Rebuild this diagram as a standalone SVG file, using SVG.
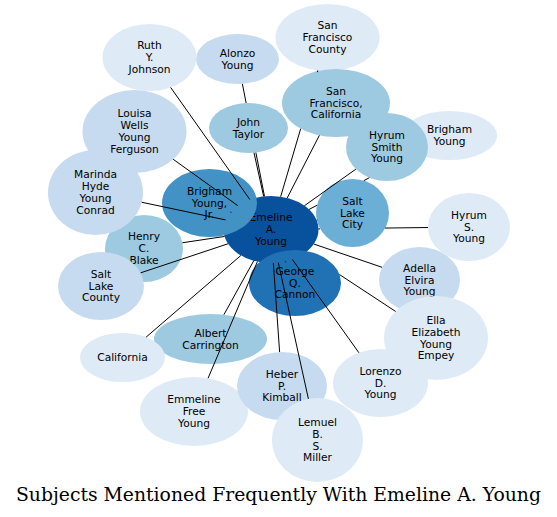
<svg xmlns="http://www.w3.org/2000/svg" width="557" height="517" viewBox="0 0 557 517">
<style>
.c0{fill:#08519c}.c1{fill:#2171b5}.c2{fill:#4292c6}.c3{fill:#6baed6}.c4{fill:#9ecae1}.c5{fill:#c6dbef}.c6{fill:#deebf7}
text.l{font-family:"DejaVu Sans","Liberation Sans",sans-serif;font-size:10.67px;text-anchor:middle;fill:#000}
#edges path{stroke:#000;stroke-width:1;fill:none}
.title{font-family:"DejaVu Serif","Liberation Serif",serif;font-size:18.5px;fill:#000}
</style>
<rect width="557" height="517" fill="#fff"/>
<g id="nodes">
<g id="n-emeline"><ellipse class="c0" cx="271" cy="229.5" rx="47.5" ry="33.5"/><text class="l"><tspan x="271" y="221.3">Emeline</tspan><tspan x="271" y="233.1">A.</tspan><tspan x="271" y="244.9">Young</tspan></text></g>
<g id="n-adella"><ellipse class="c5" cx="419.5" cy="280" rx="40.5" ry="33"/><text class="l"><tspan x="419.5" y="271.8">Adella</tspan><tspan x="419.5" y="283.6">Elvira</tspan><tspan x="419.5" y="295.4">Young</tspan></text></g>
<g id="n-albert"><ellipse class="c4" cx="210.5" cy="339" rx="56.5" ry="25"/><text class="l"><tspan x="210.5" y="336.7">Albert</tspan><tspan x="210.5" y="348.5">Carrington</tspan></text></g>
<g id="n-alonzo"><ellipse class="c5" cx="237.5" cy="59" rx="41.5" ry="25"/><text class="l"><tspan x="237.5" y="56.7">Alonzo</tspan><tspan x="237.5" y="68.5">Young</tspan></text></g>
<g id="n-brigham"><ellipse class="c6" cx="449.5" cy="135.5" rx="47.5" ry="24.5"/><text class="l"><tspan x="449.5" y="133.2">Brigham</tspan><tspan x="449.5" y="145">Young</tspan></text></g>
<g id="n-brighamjr"><ellipse class="c2" cx="209.5" cy="203" rx="47.5" ry="34"/><text class="l"><tspan x="209.5" y="194.8">Brigham</tspan><tspan x="209.5" y="206.6">Young,</tspan><tspan x="209.5" y="218.4">Jr.</tspan></text></g>
<g id="n-california"><ellipse class="c6" cx="122.5" cy="357.5" rx="42.5" ry="24.5"/><text class="l"><tspan x="122.5" y="361.1">California</tspan></text></g>
<g id="n-ella"><ellipse class="c6" cx="436" cy="338" rx="52" ry="42"/><text class="l"><tspan x="436" y="323.9">Ella</tspan><tspan x="436" y="335.7">Elizabeth</tspan><tspan x="436" y="347.5">Young</tspan><tspan x="436" y="359.3">Empey</tspan></text></g>
<g id="n-emmeline"><ellipse class="c6" cx="194" cy="411.5" rx="54" ry="34.5"/><text class="l"><tspan x="194" y="403.3">Emmeline</tspan><tspan x="194" y="415.1">Free</tspan><tspan x="194" y="426.9">Young</tspan></text></g>
<g id="n-george"><ellipse class="c1" cx="295" cy="283" rx="46" ry="33"/><text class="l"><tspan x="295" y="274.8">George</tspan><tspan x="295" y="286.6">Q.</tspan><tspan x="295" y="298.4">Cannon</tspan></text></g>
<g id="n-heber"><ellipse class="c5" cx="282" cy="386" rx="45" ry="34"/><text class="l"><tspan x="282" y="377.8">Heber</tspan><tspan x="282" y="389.6">P.</tspan><tspan x="282" y="401.4">Kimball</tspan></text></g>
<g id="n-henry"><ellipse class="c4" cx="144" cy="248.5" rx="39" ry="33.5"/><text class="l"><tspan x="144" y="240.3">Henry</tspan><tspan x="144" y="252.1">C.</tspan><tspan x="144" y="263.9">Blake</tspan></text></g>
<g id="n-hyrums"><ellipse class="c6" cx="469" cy="227" rx="41" ry="34"/><text class="l"><tspan x="469" y="218.8">Hyrum</tspan><tspan x="469" y="230.6">S.</tspan><tspan x="469" y="242.4">Young</tspan></text></g>
<g id="n-hyrumsmith"><ellipse class="c4" cx="387" cy="147" rx="41" ry="34"/><text class="l"><tspan x="387" y="138.8">Hyrum</tspan><tspan x="387" y="150.6">Smith</tspan><tspan x="387" y="162.4">Young</tspan></text></g>
<g id="n-johntaylor"><ellipse class="c4" cx="248.5" cy="128" rx="39.5" ry="25"/><text class="l"><tspan x="248.5" y="125.7">John</tspan><tspan x="248.5" y="137.5">Taylor</tspan></text></g>
<g id="n-lemuel"><ellipse class="c6" cx="317.5" cy="440" rx="45.5" ry="42"/><text class="l"><tspan x="317.5" y="425.9">Lemuel</tspan><tspan x="317.5" y="437.7">B.</tspan><tspan x="317.5" y="449.5">S.</tspan><tspan x="317.5" y="461.3">Miller</tspan></text></g>
<g id="n-lorenzo"><ellipse class="c6" cx="380.5" cy="383" rx="47.5" ry="34"/><text class="l"><tspan x="380.5" y="374.8">Lorenzo</tspan><tspan x="380.5" y="386.6">D.</tspan><tspan x="380.5" y="398.4">Young</tspan></text></g>
<g id="n-louisa"><ellipse class="c5" cx="134.5" cy="131.5" rx="52" ry="41.5"/><text class="l"><tspan x="134.5" y="117.4">Louisa</tspan><tspan x="134.5" y="129.2">Wells</tspan><tspan x="134.5" y="141">Young</tspan><tspan x="134.5" y="152.8">Ferguson</tspan></text></g>
<g id="n-marinda"><ellipse class="c5" cx="95.5" cy="192.5" rx="47.5" ry="42.5"/><text class="l"><tspan x="95.5" y="178.4">Marinda</tspan><tspan x="95.5" y="190.2">Hyde</tspan><tspan x="95.5" y="202">Young</tspan><tspan x="95.5" y="213.8">Conrad</tspan></text></g>
<g id="n-ruth"><ellipse class="c6" cx="149.5" cy="57.5" rx="47" ry="33.5"/><text class="l"><tspan x="149.5" y="49.3">Ruth</tspan><tspan x="149.5" y="61.1">Y.</tspan><tspan x="149.5" y="72.9">Johnson</tspan></text></g>
<g id="n-saltlakecity"><ellipse class="c3" cx="352.5" cy="213" rx="36.5" ry="34"/><text class="l"><tspan x="352.5" y="204.8">Salt</tspan><tspan x="352.5" y="216.6">Lake</tspan><tspan x="352.5" y="228.4">City</tspan></text></g>
<g id="n-saltlakecounty"><ellipse class="c5" cx="101" cy="286" rx="43" ry="34"/><text class="l"><tspan x="101" y="277.8">Salt</tspan><tspan x="101" y="289.6">Lake</tspan><tspan x="101" y="301.4">County</tspan></text></g>
<g id="n-sfcounty"><ellipse class="c6" cx="327.5" cy="37.5" rx="52" ry="33.5"/><text class="l"><tspan x="327.5" y="29.3">San</tspan><tspan x="327.5" y="41.1">Francisco</tspan><tspan x="327.5" y="52.9">County</tspan></text></g>
<g id="n-sfcal"><ellipse class="c4" cx="336" cy="103" rx="54" ry="34"/><text class="l"><tspan x="336" y="94.8">San</tspan><tspan x="336" y="106.6">Francisco,</tspan><tspan x="336" y="118.4">California</tspan></text></g>
</g>
<g id="edges">
<path d="M313.8,244.05 L382.1,267.3"/>
<path d="M253.75,260.7 L223.9,314.7"/>
<path d="M264.48,196.32 L255.88,152.56 M246.15,103.04 L242.38,83.83"/>
<path d="M309.06,209.46 L316.94,205.31 M363.76,180.65 L369.38,177.69"/>
<path d="M230.47,212.03 L231.4,212.4"/>
<path d="M240.92,255.43 L146.13,337.13"/>
<path d="M339.45,274.52 L395.67,311.48"/>
<path d="M257.42,261.6 L208.09,378.2"/>
<path d="M285.3,261.4 L285.8,262.3"/>
<path d="M273.35,262.95 L279.61,352.05"/>
<path d="M224.53,236.45 L182.42,242.75"/>
<path d="M318.5,228.9 L320,228.88 M385,228.06 L428,227.52"/>
<path d="M304.45,205.71 L355.88,169.14"/>
<path d="M263.66,196.4 L253.99,152.76"/>
<path d="M278.31,262.6 L308.41,398.85"/>
<path d="M292.35,259.43 L358.9,352.72"/>
<path d="M237.71,205.6 L173.16,159.25"/>
<path d="M225.49,219.9 L141.73,202.25"/>
<path d="M249.82,199.51 L170.64,87.42"/>
<path d="M316.66,220.26 L317.3,220"/>
<path d="M228.03,243.78 L140.64,272.83"/>
<path d="M280.65,196.7 L300.66,128.71 M317.2,72.2 L317.9,70.4"/>
<path d="M287.18,198 L319.38,135.35"/>
</g>
<text class="title" x="16" y="501" textLength="525" lengthAdjust="spacingAndGlyphs">Subjects Mentioned Frequently With Emeline A. Young</text>
</svg>
